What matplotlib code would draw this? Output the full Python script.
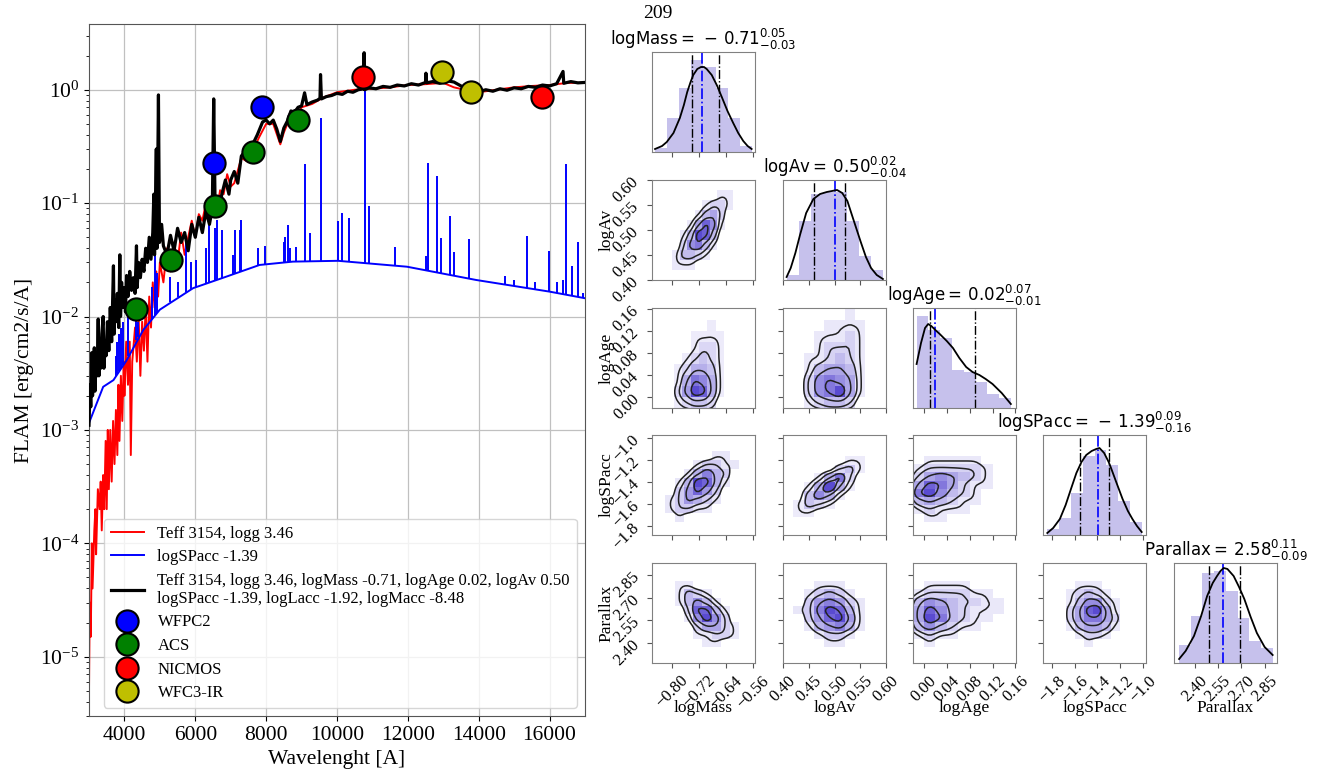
import numpy as np
import matplotlib
matplotlib.use('Agg')
import matplotlib.pyplot as plt
from matplotlib.colors import LinearSegmentedColormap

plt.rcParams['font.family'] = ['Liberation Serif', 'DejaVu Serif']
plt.rcParams['mathtext.fontset'] = 'stix'

# ---------------------------------------------------------------- SED data
red_wave = [3000, 3020, 3050, 3080, 3100, 3150, 3180, 3200, 3250, 3300, 3330, 3360,
            3400, 3430, 3470, 3500, 3530, 3560, 3600, 3640, 3680, 3720, 3760, 3800,
            3830, 3860, 3900, 3940, 3980, 4000, 4050, 4100, 4150, 4180, 4220, 4300,
            4350, 4400, 4450, 4500, 4550, 4600, 4650, 4700, 4750, 4800, 4850, 4900,
            4950, 5000, 5100, 5200, 5300, 5400, 5500, 5600, 5700, 5800, 5900, 6000,
            6100, 6200, 6300, 6400, 6500, 6600, 6700, 6800, 6900, 7000, 7100, 7300,
            7500, 7600, 7800, 8000, 8200, 8400, 8500, 8600, 8800, 9000, 9300, 9600,
            10000, 10500, 11000, 11500, 12000, 12500, 13000, 13300, 13600, 14000,
            14500, 15000, 15500, 16000, 16500, 17000]
red_flux = [5e-6, 3e-5, 1.5e-5, 1e-4, 4e-5, 1.3e-4, 2e-4, 8e-5, 3e-4, 2e-4, 3.5e-4, 1.3e-4,
            4e-4, 2e-4, 8e-4, 2e-4, 1e-3, 3e-4, 1e-3, 3.5e-4, 1.2e-3, 5e-4, 1.5e-3, 6e-4,
            2.5e-3, 8e-4, 3e-3, 1.2e-3, 4e-3, 2e-3, 6e-3, 2.5e-3, 6e-3, 6e-4, 4e-3, 8e-3,
            4e-3, 1e-2, 3e-3, 9e-3, 5e-3, 1.2e-2, 4e-3, 1.5e-2, 8e-3, 2e-2, 1.2e-2, 2.5e-2,
            1.5e-2, 3e-2, 2e-2, 4e-2, 2.5e-2, 4.5e-2, 3e-2, 5.5e-2, 3.5e-2, 5e-2, 7e-2, 5e-2,
            8e-2, 7e-2, 1e-1, 9e-2, 1.1e-1, 8e-2, 1.3e-1, 1.2e-1, 1.8e-1, 1.4e-1, 1.5e-1, 2.5e-1,
            2.3e-1, 2.8e-1, 3.8e-1, 5e-1, 5e-1, 3.3e-1, 4.2e-1, 5e-1, 5.5e-1, 7e-1, 7.5e-1, 8.5e-1,
            0.95, 1.0, 1.02, 1.05, 1.1, 1.12, 1.15, 1.05, 1.0, 0.95,
            1.0, 1.05, 1.08, 1.1, 1.15, 1.15]

black_wave = [3000, 3030, 3050, 3080, 3100, 3130, 3150, 3170, 3200, 3230, 3260, 3280,
              3310, 3330, 3360, 3400, 3420, 3450, 3480, 3520, 3560, 3600, 3640, 3690,
              3710, 3740, 3760, 3800, 3840, 3870, 3890, 3920, 3950, 4000, 4030, 4060,
              4100, 4150, 4200, 4250, 4300, 4340, 4360, 4400, 4450, 4500, 4550, 4600,
              4650, 4700, 4750, 4800, 4830, 4850, 4900, 4920, 4960, 4990, 5050, 5100,
              5200, 5300, 5400, 5500, 5600, 5700, 5800, 5900, 6000, 6100, 6200, 6300,
              6400, 6480, 6520, 6560, 6650, 6750, 6850, 6950, 7000, 7100, 7200, 7300,
              7450, 7600, 7750, 7900, 8000, 8100, 8200, 8300, 8400, 8500, 8600, 8700,
              8800, 8900, 9000, 9085, 9150, 9300, 9450, 9520, 9535, 9560, 9700, 9850,
              10000, 10150, 10300, 10450, 10600, 10750, 10765, 10780, 10900, 11100, 11300,
              11500, 11700, 11900, 12100, 12300, 12500, 12510, 12530, 12700, 12900, 13100,
              13300, 13500, 13650, 13800, 14000, 14200, 14400, 14600, 14800, 15000, 15200,
              15400, 15600, 15800, 16000, 16200, 16380, 16400, 16600, 16800, 17000]
black_flux = [1.1e-3, 2.5e-3, 1.6e-3, 4.8e-3, 2.0e-3, 4.0e-3, 5.3e-3, 2.2e-3, 4.5e-3, 3.0e-3, 9.5e-3, 3e-3,
              6e-3, 3.5e-3, 7e-3, 1.0e-2, 3.5e-3, 6e-3, 4.5e-3, 9e-3, 5e-3, 1.2e-2, 6e-3, 2.8e-2,
              7e-3, 1.4e-2, 9e-3, 1.6e-2, 8e-3, 3.5e-2, 1.0e-2, 2.0e-2, 1.2e-2, 1.8e-2, 1.1e-2, 2.3e-2,
              1.5e-2, 2.5e-2, 1.7e-2, 2.2e-2, 1.6e-2, 4.2e-2, 1.8e-2, 3.0e-2, 2.2e-2, 3.2e-2, 2.5e-2, 4.0e-2,
              3e-2, 5.0e-2, 3.2e-2, 5.5e-2, 1.2e-1, 3.5e-2, 3.0e-1, 4e-2, 0.9, 4.5e-2, 6.5e-2, 4.2e-2,
              3.5e-2, 5.2e-2, 3.8e-2, 6.0e-2, 4.5e-2, 5.5e-2, 3.8e-2, 6.5e-2, 5e-2, 7.5e-2, 5.5e-2, 8.5e-2,
              6.5e-2, 9e-2, 0.83, 9e-2, 8e-2, 1.2e-1, 1.6e-1, 1.2e-1, 1.6e-1, 1.9e-1, 1.5e-1, 2.6e-1,
              3.0e-1, 3.2e-1, 4.0e-1, 5.2e-1, 5.4e-1, 5.0e-1, 5.4e-1, 4.5e-1, 3.5e-1, 4.6e-1, 5.3e-1, 6.5e-1,
              6.3e-1, 7.0e-1, 7.2e-1, 0.94, 7.4e-1, 7.8e-1, 8.1e-1, 8.4e-1, 1.36, 8.3e-1, 8.7e-1, 8.9e-1,
              9.3e-1, 9.1e-1, 9.7e-1, 9.5e-1, 1.0, 1.02, 2.12, 1.0, 1.04, 1.02, 1.07,
              1.05, 1.1, 1.08, 1.13, 1.1, 1.16, 1.4, 1.15, 1.18, 1.14, 1.2,
              1.17, 1.08, 1.02, 1.0, 0.96, 1.0, 0.97, 1.02, 0.99, 1.04, 1.02,
              1.07, 1.05, 1.1, 1.08, 1.13, 1.45, 1.14, 1.18, 1.15, 1.16]

# accretion slab continuum and its emission lines
slab_wave = [3000, 3400, 3690, 4060, 4530, 5000, 5940, 6880, 7815, 8755, 10030,
             11975, 13930, 15990, 17000]
slab_flux = [1.15e-3, 2.4e-3, 2.75e-3, 4.1e-3, 7.6e-3, 1.15e-2, 1.78e-2, 2.25e-2,
             2.85e-2, 3.05e-2, 3.1e-2, 2.75e-2, 2.1e-2, 1.66e-2, 1.45e-2]
line_wave = [3750, 3800, 3835, 3890, 3970, 4108, 4340, 4390, 4766, 4861, 4906, 5282,
             5500, 5752, 5876, 6034, 6315, 6398, 6563, 6614, 6755, 7065, 7123, 7250,
             7296, 7780, 7969, 8498, 8542, 8615, 8662, 8830, 9085, 9225, 9535, 10030,
             10130, 10330, 10800, 10915, 11650, 12500, 12575, 12820, 12930, 13200, 13300,
             13730, 14750, 15010, 15360, 15600, 15990, 16200, 16375, 16460, 16630, 16800, 16940]
line_peak = [0.0045, 0.006, 0.007, 0.008, 0.009, 0.01, 0.012, 0.009, 0.0183, 0.05, 0.024,
             0.0225, 0.02, 0.051, 0.03, 0.0316, 0.04, 0.074, 0.06, 0.071, 0.058, 0.035, 0.058,
             0.058, 0.071, 0.04, 0.042, 0.045, 0.05, 0.064, 0.04, 0.041, 0.22, 0.054, 0.56,
             0.069, 0.082, 0.074, 1.0, 0.095, 0.041, 0.034, 0.227, 0.172, 0.049, 0.077,
             0.037, 0.048, 0.023, 0.021, 0.051, 0.020, 0.038, 0.02, 0.021, 0.22, 0.028,
             0.045, 0.016]

# photometry
wfpc2_wave = [6521, 7893]
wfpc2_flux = [0.225, 0.70]
acs_wave = [4324, 5310, 6549, 7628, 8896]
acs_flux = [0.0117, 0.0312, 0.094, 0.282, 0.54]
nicmos_wave = [10746, 15797]
nicmos_flux = [1.29, 0.87]
wfc3_wave = [12952, 13780]
wfc3_flux = [1.43, 0.96]

wave_ticks = [4000, 6000, 8000, 10000, 12000, 14000, 16000]
flux_ticks = [1e-5, 1e-4, 1e-3, 1e-2, 1e-1, 1e0]

# ---------------------------------------------------------------- posterior data
names = ['logMass', 'logAv', 'logAge', 'logSPacc', 'Parallax']
medians = [-0.71, 0.50, 0.02, -1.39, 2.58]
err_hi = [0.05, 0.02, 0.07, 0.09, 0.11]
err_lo = [0.03, 0.04, 0.01, 0.16, 0.09]
limits = [(-0.86, -0.553), (0.40, 0.60), (-0.019, 0.161), (-1.88, -0.97), (2.265, 2.93)]
ticks = [[-0.80, -0.72, -0.64, -0.56], [0.40, 0.45, 0.50, 0.55, 0.60],
         [0.00, 0.04, 0.08, 0.12, 0.16], [-1.8, -1.6, -1.4, -1.2, -1.0],
         [2.40, 2.55, 2.70, 2.85]]
tick_fmt = ['%.2f', '%.2f', '%.2f', '%.1f', '%.2f']

# marginal histograms (relative heights) and smoothed curves
mass_hist = [0.04, 0.34, 0.64, 0.92, 0.85, 0.64, 0.34, 0.06]
mass_range = (-0.851, -0.562)
mass_kde_x = [-0.851, -0.83, -0.816, -0.796, -0.777, -0.765, -0.755, -0.745, -0.737, -0.725,
              -0.714, -0.705, -0.697, -0.682, -0.667, -0.652, -0.635, -0.618, -0.603, -0.588, -0.575, -0.563]
mass_kde_y = [0.03, 0.06, 0.1, 0.19, 0.34, 0.47, 0.6, 0.7, 0.77, 0.83,
              0.85, 0.85, 0.83, 0.77, 0.67, 0.55, 0.41, 0.29, 0.19, 0.11, 0.06, 0.03]

av_hist = [0.05, 0.59, 0.86, 0.88, 0.88, 0.59, 0.24, 0.1]
av_range = (0.407, 0.594)
av_kde_x = [0.407, 0.415, 0.424, 0.433, 0.445, 0.459, 0.472, 0.485, 0.495, 0.505,
            0.515, 0.525, 0.537, 0.551, 0.561, 0.571, 0.582, 0.594]
av_kde_y = [0.03, 0.12, 0.27, 0.45, 0.67, 0.81, 0.86, 0.88, 0.89, 0.9,
            0.87, 0.79, 0.6, 0.38, 0.23, 0.12, 0.05, 0.01]

age_hist = [0.92, 0.78, 0.7, 0.38, 0.36, 0.26, 0.14, 0.1]
age_range = (-0.0127, 0.152)
age_kde_x = [-0.0127, -0.005, 0.002, 0.0075, 0.013, 0.02, 0.0277, 0.04, 0.0508, 0.062,
             0.0739, 0.085, 0.097, 0.108, 0.120, 0.136, 0.152]
age_kde_y = [0.44, 0.65, 0.8, 0.84, 0.82, 0.78, 0.74, 0.67, 0.6, 0.5,
             0.41, 0.36, 0.33, 0.29, 0.24, 0.15, 0.04]

spacc_hist = [0.06, 0.17, 0.42, 0.79, 0.85, 0.7, 0.34, 0.13]
spacc_range = (-1.842, -1.008)
spacc_kde_x = [-1.842, -1.79, -1.731, -1.68, -1.63, -1.585, -1.54, -1.498, -1.45, -1.41,
               -1.381, -1.34, -1.30, -1.279, -1.23, -1.177, -1.13, -1.090, -1.05, -1.008]
spacc_kde_y = [0.02, 0.07, 0.16, 0.3, 0.47, 0.62, 0.73, 0.8, 0.84, 0.86,
               0.87, 0.82, 0.73, 0.67, 0.52, 0.36, 0.24, 0.16, 0.09, 0.03]

plx_hist = [0.18, 0.47, 0.9, 0.92, 0.72, 0.45, 0.22, 0.15]
plx_range = (2.298, 2.902)
plx_kde_x = [2.298, 2.34, 2.394, 2.44, 2.479, 2.515, 2.543, 2.565, 2.586, 2.61,
             2.650, 2.685, 2.719, 2.76, 2.800, 2.85, 2.902]
plx_kde_y = [0.04, 0.12, 0.27, 0.47, 0.67, 0.8, 0.87, 0.92, 0.95, 0.94,
             0.87, 0.76, 0.64, 0.46, 0.3, 0.16, 0.08]

# joint sample counts, rows listed from the top (high y) down
mass_av_extent = (-0.80, -0.62, 0.42, 0.58)
mass_av_counts = [[0, 0, 0, 0, 0, 0, 1, 1],
                  [0, 0, 0, 0, 1, 2, 2, 1],
                  [0, 0, 0, 1, 3, 4, 2, 0],
                  [0, 0, 1, 4, 7, 5, 1, 0],
                  [0, 1, 3, 8, 7, 3, 0, 0],
                  [0, 2, 5, 6, 3, 1, 0, 0],
                  [1, 3, 3, 2, 1, 0, 0, 0],
                  [1, 1, 1, 0, 0, 0, 0, 0]]

mass_age_extent = (-0.82, -0.62, -0.02, 0.14)
mass_age_counts = [[0, 0, 0, 0, 0, 1, 0, 0],
                   [0, 0, 0, 1, 1, 1, 1, 0],
                   [0, 0, 0, 1, 2, 2, 1, 0],
                   [0, 0, 1, 2, 3, 2, 1, 0],
                   [0, 1, 2, 4, 4, 3, 1, 0],
                   [0, 1, 4, 7, 6, 4, 1, 0],
                   [0, 2, 5, 9, 8, 4, 1, 0],
                   [0, 1, 2, 3, 3, 2, 0, 0]]

av_age_extent = (0.42, 0.58, -0.02, 0.16)
av_age_counts = [[0, 0, 0, 0, 0, 1, 0, 0],
                 [0, 0, 0, 1, 1, 1, 1, 0],
                 [0, 0, 1, 1, 1, 2, 1, 0],
                 [0, 0, 1, 2, 2, 2, 1, 0],
                 [0, 1, 1, 2, 3, 2, 1, 0],
                 [0, 1, 3, 4, 4, 3, 1, 0],
                 [0, 2, 5, 6, 5, 4, 1, 0],
                 [0, 2, 5, 6, 8, 4, 1, 0],
                 [0, 1, 2, 3, 3, 2, 0, 0]]

mass_spacc_extent = (-0.82, -0.60, -1.76, -1.12)
mass_spacc_counts = [[0, 0, 0, 0, 0, 1, 1, 0],
                     [0, 0, 0, 1, 2, 2, 1, 1],
                     [0, 0, 1, 3, 5, 3, 2, 0],
                     [0, 1, 3, 7, 6, 3, 1, 0],
                     [0, 2, 4, 6, 4, 2, 0, 0],
                     [1, 2, 4, 3, 2, 1, 0, 0],
                     [1, 2, 2, 1, 1, 0, 0, 0],
                     [0, 1, 0, 0, 0, 0, 0, 0]]

av_spacc_extent = (0.42, 0.56, -1.72, -1.16)
av_spacc_counts = [[0, 0, 0, 0, 0, 1, 1],
                   [0, 0, 0, 0, 2, 3, 1],
                   [0, 0, 1, 4, 7, 2, 0],
                   [0, 1, 4, 9, 4, 1, 0],
                   [0, 3, 6, 4, 1, 0, 0],
                   [1, 3, 2, 1, 0, 0, 0],
                   [1, 1, 0, 0, 0, 0, 0]]

age_spacc_extent = (-0.02, 0.14, -1.76, -1.16)
age_spacc_counts = [[0, 1, 1, 1, 1, 1, 0, 0],
                    [1, 2, 2, 2, 2, 2, 1, 0],
                    [2, 4, 5, 4, 3, 2, 1, 0],
                    [4, 7, 6, 4, 2, 1, 1, 0],
                    [6, 8, 5, 3, 2, 1, 0, 0],
                    [3, 4, 3, 2, 1, 1, 0, 0],
                    [1, 2, 1, 1, 1, 0, 0, 0],
                    [0, 1, 1, 0, 0, 0, 0, 0]]

mass_plx_extent = (-0.82, -0.60, 2.37, 2.81)
mass_plx_counts = [[0, 1, 1, 0, 0, 0, 0, 0],
                   [0, 1, 3, 2, 1, 0, 0, 0],
                   [0, 1, 3, 5, 3, 1, 0, 0],
                   [0, 0, 2, 7, 7, 3, 1, 0],
                   [0, 0, 1, 5, 8, 5, 2, 0],
                   [0, 0, 0, 2, 4, 4, 2, 1],
                   [0, 0, 0, 1, 1, 2, 2, 1],
                   [0, 0, 0, 0, 1, 1, 0, 0]]

av_plx_extent = (0.42, 0.58, 2.37, 2.81)
av_plx_counts = [[0, 0, 1, 1, 1, 0, 0, 0],
                 [0, 1, 2, 3, 2, 1, 0, 0],
                 [0, 2, 4, 5, 4, 2, 1, 0],
                 [1, 2, 5, 7, 6, 3, 1, 0],
                 [0, 2, 4, 6, 7, 4, 1, 0],
                 [0, 1, 3, 4, 5, 3, 1, 0],
                 [0, 0, 1, 2, 2, 1, 0, 0],
                 [0, 0, 0, 1, 1, 0, 0, 0]]

age_plx_extent = (-0.02, 0.14, 2.37, 2.81)
age_plx_counts = [[0, 1, 1, 1, 1, 0, 0, 0],
                  [1, 2, 2, 2, 2, 1, 1, 0],
                  [3, 5, 4, 3, 2, 2, 1, 1],
                  [4, 7, 5, 3, 2, 1, 1, 1],
                  [4, 8, 6, 3, 2, 1, 1, 0],
                  [3, 5, 3, 2, 1, 1, 0, 0],
                  [1, 2, 1, 1, 0, 0, 0, 0],
                  [0, 1, 0, 0, 0, 0, 0, 0]]

spacc_plx_extent = (-1.76, -1.12, 2.37, 2.81)
spacc_plx_counts = [[0, 0, 1, 1, 1, 0, 0, 0],
                    [0, 1, 2, 3, 2, 1, 0, 0],
                    [0, 1, 3, 5, 5, 2, 1, 0],
                    [0, 2, 4, 7, 8, 4, 1, 0],
                    [0, 2, 4, 6, 6, 4, 2, 0],
                    [0, 1, 3, 4, 4, 3, 1, 0],
                    [0, 0, 1, 2, 2, 1, 0, 0],
                    [0, 0, 0, 1, 0, 0, 0, 0]]

# ---------------------------------------------------------------- figure
W, H = 1321, 778
fig = plt.figure(figsize=(W / 100, H / 100), dpi=100)


def add_px_axes(left, top, right, bottom):
    return fig.add_axes([left / W, 1 - bottom / H, (right - left) / W, (bottom - top) / H])


# SED panel
ax = add_px_axes(89, 24, 585, 716)
ax.plot(red_wave, red_flux, color='red', lw=1.4, label='Teff 3154, logg 3.46', zorder=2)
ax.plot(slab_wave, slab_flux, color='blue', lw=1.4, label='logSPacc -1.39', zorder=2)
line_base = np.interp(line_wave, slab_wave, slab_flux)
ax.vlines(line_wave, line_base, line_peak, color='blue', lw=1.4, zorder=2)
ax.plot(black_wave, black_flux, color='black', lw=2.3, zorder=3,
        label='Teff 3154, logg 3.46, logMass -0.71, logAge 0.02, logAv 0.50\n'
              'logSPacc -1.39, logLacc -1.92, logMacc -8.48')

mk = dict(ls='none', marker='o', ms=16, mec='black', mew=1.5, zorder=4)
ax.plot(wfpc2_wave, wfpc2_flux, mfc='blue', label='WFPC2', **mk)
ax.plot(acs_wave, acs_flux, mfc='green', label='ACS', **mk)
ax.plot(nicmos_wave, nicmos_flux, mfc='red', label='NICMOS', **mk)
ax.plot(wfc3_wave, wfc3_flux, mfc='y', label='WFC3-IR', **mk)

ax.set_yscale('log')
ax.set_xlim(3000, 17000)
ax.set_ylim(3.0e-6, 3.8)
ax.set_xticks(wave_ticks)
ax.set_yticks(flux_ticks)
ax.grid(True, color='#c0c0c0', lw=0.9)
ax.tick_params(labelsize=15.5)
for s in ax.spines.values():
    s.set_color('#555555')
ax.set_xlabel('Wavelenght [A]', fontsize=15.5)
ax.set_ylabel('FLAM [erg/cm2/s/A]', fontsize=15.5)
ax.legend(loc='lower right', fontsize=12, labelspacing=0.45)

# corner plot
fig.text(643 / W, 1 - 13 / H, '209', fontsize=14, va='center', ha='left')

col_left = [652, 783, 913, 1043, 1174]
row_top = [52, 180, 308, 435, 563]
pw, ph = 103, 100

hist_heights = [mass_hist, av_hist, age_hist, spacc_hist, plx_hist]
hist_ranges = [mass_range, av_range, age_range, spacc_range, plx_range]
kde_x = [mass_kde_x, av_kde_x, age_kde_x, spacc_kde_x, plx_kde_x]
kde_y = [mass_kde_y, av_kde_y, age_kde_y, spacc_kde_y, plx_kde_y]
joint = {(1, 0): (mass_av_extent, mass_av_counts),
         (2, 0): (mass_age_extent, mass_age_counts),
         (2, 1): (av_age_extent, av_age_counts),
         (3, 0): (mass_spacc_extent, mass_spacc_counts),
         (3, 1): (av_spacc_extent, av_spacc_counts),
         (3, 2): (age_spacc_extent, age_spacc_counts),
         (4, 0): (mass_plx_extent, mass_plx_counts),
         (4, 1): (av_plx_extent, av_plx_counts),
         (4, 2): (age_plx_extent, age_plx_counts),
         (4, 3): (spacc_plx_extent, spacc_plx_counts)}

density_cmap = LinearSegmentedColormap.from_list('dens', ['white', '#5a4bd0'])
fill_color = '#c6c1ec'
# enclosed probability of each contour, as in corner
contour_mass = 1 - np.exp(-0.5 * np.array([0.5, 1.0, 1.5, 2.0]) ** 2)


def tick_labels(vals, fmt):
    return [(fmt % v).replace('-', '\u2212') for v in vals]


def smooth(c, up=4, sigma=1.6):
    # upsample the coarse counts and blur them a little before contouring
    big = np.kron(c, np.ones((up, up)))
    big = np.pad(big, 2 * up)
    k = np.exp(-0.5 * (np.arange(-6, 7) / sigma) ** 2)
    k /= k.sum()
    big = np.apply_along_axis(lambda r: np.convolve(r, k, mode='same'), 0, big)
    big = np.apply_along_axis(lambda r: np.convolve(r, k, mode='same'), 1, big)
    return big


def contour_levels(h):
    flat = np.sort(h.ravel())[::-1]
    cum = np.cumsum(flat)
    cum /= cum[-1]
    lv = [flat[cum <= m][-1] if np.any(cum <= m) else flat[0] for m in contour_mass]
    lv = np.sort(lv)
    for k in range(1, len(lv)):
        if lv[k] <= lv[k - 1]:
            lv[k] = lv[k - 1] * 1.0001
    return lv


def draw_joint(a, extent, counts):
    x0, x1, y0, y1 = extent
    c = np.array(counts, dtype=float)[::-1]
    ny, nx = c.shape
    xe = np.linspace(x0, x1, nx + 1)
    ye = np.linspace(y0, y1, ny + 1)
    a.pcolormesh(xe, ye, c, cmap=density_cmap, vmin=0, vmax=c.max(), shading='flat', zorder=1)
    up = 4
    h = smooth(c, up)
    dx, dy = (xe[1] - xe[0]) / up, (ye[1] - ye[0]) / up
    xs = x0 - 2 * up * dx + dx * (np.arange(h.shape[1]) + 0.5)
    ys = y0 - 2 * up * dy + dy * (np.arange(h.shape[0]) + 0.5)
    a.contour(xs, ys, h, levels=contour_levels(h), colors='#222222', linewidths=1.1, zorder=2)


for i in range(5):
    for j in range(i + 1):
        a = add_px_axes(col_left[j], row_top[i], col_left[j] + pw, row_top[i] + ph)
        for s in a.spines.values():
            s.set_color('#808080')
        a.set_xlim(limits[j])
        a.set_xticks(ticks[j])
        if i == j:
            lo, hi = hist_ranges[i]
            edges = np.linspace(lo, hi, len(hist_heights[i]) + 1)
            a.stairs(hist_heights[i], edges, fill=True, color=fill_color, zorder=1)
            a.plot(kde_x[i], kde_y[i], color='black', lw=1.3, zorder=3)
            med = medians[i]
            a.axvline(med - err_lo[i], color='black', ls='-.', lw=1.0, zorder=2)
            a.axvline(med + err_hi[i], color='black', ls='-.', lw=1.0, zorder=2)
            a.axvline(med, color='blue', ls='-.', lw=1.2, zorder=2)
            a.set_ylim(0, 1.0)
            a.set_yticks([])
            val = f'{abs(med):.2f}'
            sign = '-\\,' if med < 0 else ''
            title = f'{names[i]}$ =\\,{sign}{val}^{{{err_hi[i]:.2f}}}_{{-{err_lo[i]:.2f}}}$'
            a.set_title(title, fontsize=12, family='DejaVu Sans', math_fontfamily='dejavusans', pad=3)
        else:
            extent, counts = joint[(i, j)]
            draw_joint(a, extent, counts)
            a.set_ylim(limits[i])
            a.set_yticks(ticks[i])
            if j == 0:
                a.set_yticklabels(tick_labels(ticks[i], tick_fmt[i]), rotation=45, fontsize=12)
                a.set_ylabel(names[i], fontsize=12.5)
                a.yaxis.set_label_coords(-0.36, 0.5)
            else:
                a.set_yticklabels([])
        if i == 4:
            a.set_xticklabels(tick_labels(ticks[j], tick_fmt[j]), rotation=45, fontsize=12)
            a.set_xlabel(names[j], fontsize=12.5)
            a.xaxis.set_label_coords(0.5, -0.37)
        else:
            a.set_xticklabels([])
        a.tick_params(length=3.5, color='#555555')

fig.savefig('out.png', dpi=100)
